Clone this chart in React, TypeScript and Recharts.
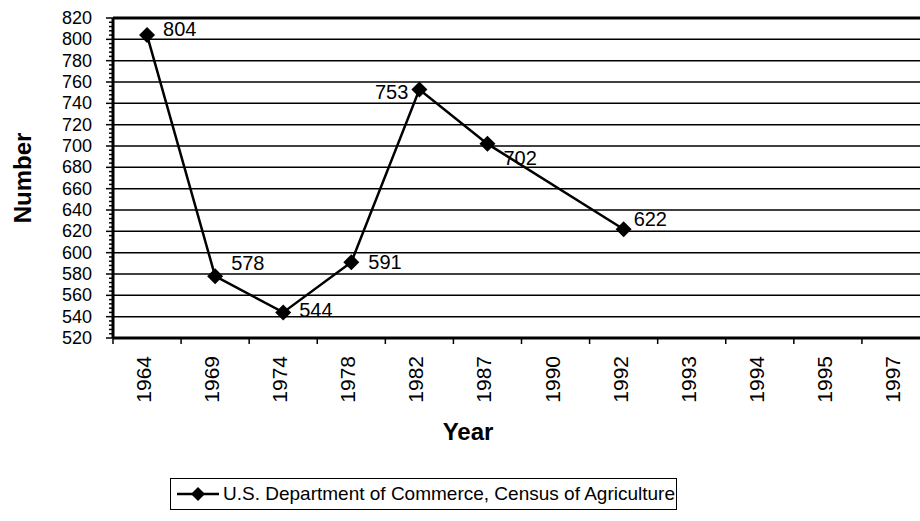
import { LineChart, Line, XAxis, YAxis, CartesianGrid, Legend, LabelList, Label, ReferenceLine } from "recharts";

const years = ["1964", "1969", "1974", "1978", "1982", "1987", "1990", "1992", "1993", "1994", "1995", "1997"];
const farms = [804, 578, 544, 591, 753, 702, null, 622, null, null, null, null];
const yTicks = [520, 540, 560, 580, 600, 620, 640, 660, 680, 700, 720, 740, 760, 780, 800, 820];
const seriesName = "U.S. Department of Commerce, Census of Agriculture";

// where each value label sits relative to its point
const labelOffsets: [number, number][] = [
  [16, -6], [16, -13], [16, -2], [17, 0], [-11, 3], [16, 14], [0, 0], [10, -10],
];

const FONT = "'Liberation Sans', Arial, sans-serif";

const data = years.map((year, i) => ({ idx: i, year, value: farms[i] }));

// minor ticks every 4, majors every 20
const yAllTicks: number[] = [];
for (let v = yTicks[0]; v <= yTicks[yTicks.length - 1]; v += 4) yAllTicks.push(v);

const xTicks = years.flatMap((_, i) => [i - 0.5, i]).concat(years.length - 0.5);

const Diamond = ({ cx, cy, size = 8 }: { cx?: number; cy?: number; size?: number }) => {
  if (cx == null || cy == null) return null;
  return (
    <polygon
      points={`${cx},${cy - size} ${cx + size},${cy} ${cx},${cy + size} ${cx - size},${cy}`}
      fill="#000"
    />
  );
};

const YTick = ({ x, y, payload }: any) => {
  const major = payload.value % 20 === 0;
  return (
    <g>
      <line x1={x - (major ? 7 : 4)} x2={x} y1={y} y2={y} stroke="#000" strokeWidth={1.5} />
      {major && (
        <text x={x - 21} y={y} textAnchor="end" dominantBaseline="central" fontSize={18} fontFamily={FONT} fill="#000">
          {payload.value}
        </text>
      )}
    </g>
  );
};

const XTick = ({ x, y, payload }: any) => {
  const v = payload.value;
  if (Number.isInteger(v)) {
    return (
      <text
        x={x + 4}
        y={y + 18}
        transform={`rotate(-90, ${x + 4}, ${y + 18})`}
        textAnchor="end"
        fontSize={21}
        fontFamily={FONT}
        fill="#000"
      >
        {years[v]}
      </text>
    );
  }
  return <line x1={x} x2={x} y1={y} y2={y + 6} stroke="#000" strokeWidth={1.5} />;
};

const ValueLabel = ({ x, y, value, index }: any) => {
  if (value == null) return null;
  const [dx, dy] = labelOffsets[index] ?? [16, 0];
  return (
    <text
      x={x + dx}
      y={y + dy}
      textAnchor={dx < 0 ? "end" : "start"}
      dominantBaseline="central"
      fontSize={20}
      fontFamily={FONT}
      fill="#000"
    >
      {value}
    </text>
  );
};

const LegendBox = () => (
  <div
    style={{
      border: "1px solid #000",
      height: 30,
      width: 505,
      display: "flex",
      alignItems: "center",
      fontFamily: FONT,
      fontSize: 19,
      color: "#000",
      background: "#fff",
      boxSizing: "content-box",
      whiteSpace: "nowrap",
    }}
  >
    <svg width={48} height={20} style={{ marginLeft: 4 }}>
      <line x1={2} x2={44} y1={10} y2={10} stroke="#000" strokeWidth={2.5} />
      <Diamond cx={23} cy={10} size={7} />
    </svg>
    <span>{seriesName}</span>
  </div>
);

export default function App() {
  return (
    <div style={{ position: "absolute", left: 0, top: 0, width: 920, height: 521, overflow: "hidden", background: "#fff" }}>
      <LineChart width={940} height={521} data={data} margin={{ top: 18, right: 10, bottom: 0, left: 0 }}>
        <CartesianGrid horizontal vertical={false} horizontalValues={yTicks} stroke="#000" strokeWidth={1.5} />
        <XAxis
          dataKey="idx"
          type="number"
          domain={[-0.5, years.length - 0.5]}
          ticks={xTicks}
          interval={0}
          height={183}
          tickSize={0}
          tickMargin={0}
          tickLine={false}
          tick={<XTick />}
          axisLine={{ stroke: "#000", strokeWidth: 3 }}
        >
          <Label
            content={({ viewBox }: any) => (
              <text x={viewBox.x + 355} y={440} textAnchor="middle" fontSize={24} fontWeight="bold" fontFamily={FONT} fill="#000">
                Year
              </text>
            )}
          />
        </XAxis>
        <YAxis
          domain={[yTicks[0], yTicks[yTicks.length - 1]]}
          ticks={yAllTicks}
          interval={0}
          width={113}
          tickSize={0}
          tickMargin={0}
          tickLine={false}
          tick={<YTick />}
          axisLine={{ stroke: "#000", strokeWidth: 3 }}
          allowDataOverflow
        >
          <Label
            content={({ viewBox }: any) => {
              const cx = viewBox.x + 22;
              const cy = viewBox.y + viewBox.height / 2;
              return (
                <text
                  x={cx}
                  y={cy}
                  transform={`rotate(-90, ${cx}, ${cy})`}
                  textAnchor="middle"
                  dominantBaseline="central"
                  fontSize={24}
                  fontWeight="bold"
                  fontFamily={FONT}
                  fill="#000"
                >
                  Number
                </text>
              );
            }}
          />
        </YAxis>
        <ReferenceLine y={yTicks[yTicks.length - 1]} stroke="#000" strokeWidth={3} />
        <Legend
          layout="horizontal"
          verticalAlign="middle"
          align="center"
          content={<LegendBox />}
          wrapperStyle={{ left: 170, top: 478, width: 507, height: 32 }}
        />
        <Line
          type="linear"
          dataKey="value"
          name={seriesName}
          stroke="#000"
          strokeWidth={2.5}
          connectNulls
          dot={<Diamond />}
          activeDot={false}
          isAnimationActive={false}
        >
          <LabelList dataKey="value" content={<ValueLabel />} />
        </Line>
      </LineChart>
    </div>
  );
}
